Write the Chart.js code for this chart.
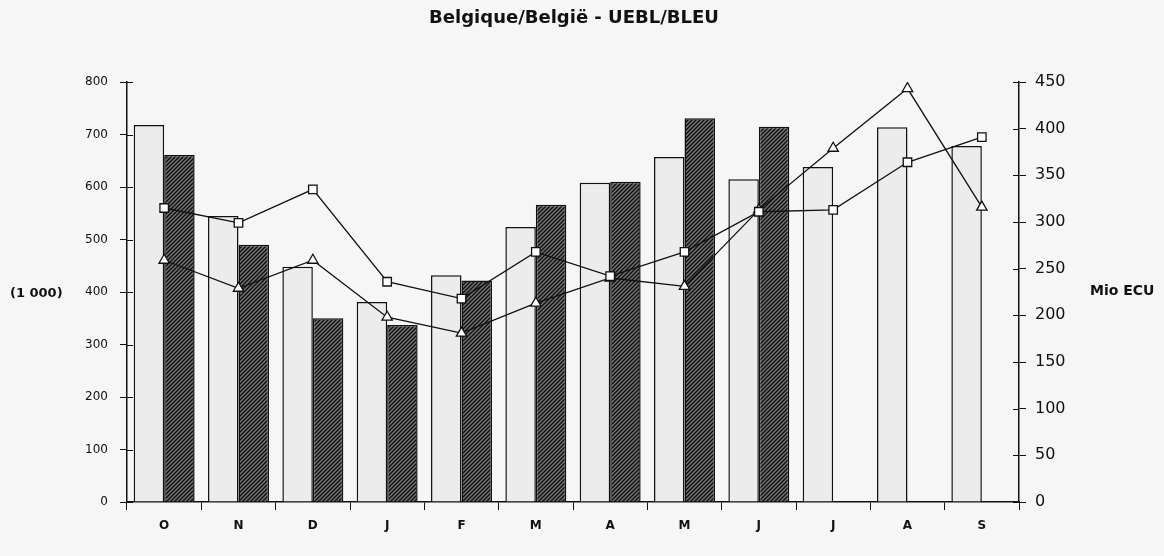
<!DOCTYPE html>
<html>
<head>
<meta charset="utf-8">
<title>Belgique/België - UEBL/BLEU</title>
<script src="https://cdn.jsdelivr.net/npm/chart.js@4/dist/chart.umd.min.js"></script>
<style>
  html, body { margin: 0; padding: 0; background: #f6f6f6; }
  #wrap { width: 1164px; height: 556px; position: relative; }
</style>
</head>
<body>
<div id="wrap"><canvas id="myChart"></canvas></div>
<script>
// Meses (eixo x)
const labels = ['O', 'N', 'D', 'J', 'F', 'M', 'A', 'M', 'J', 'J', 'A', 'S'];

// Barras - eixo esquerdo (1 000)
const barrasClaras = [718, 545, 448, 381, 432, 524, 608, 657, 615, 638, 714, 678];
const barrasEscuras = [661, 490, 350, 337, 422, 566, 610, 731, 715, null, null, null];

// Linhas - eixo direito (Mio ECU)
const linhaQuadrados = [315, 299, 335, 236, 218, 268, 242, 268, 311, 313, 364, 391];
const linhaTriangulos = [259, 229, 259, 198, 181, 213, 240, 231, 313, 379, 443, 316];

// Ticks dos eixos
const ticksEsquerda = [0, 100, 200, 300, 400, 500, 600, 700, 800];
const ticksDireita = [0, 50, 100, 150, 200, 250, 300, 350, 400, 450];

// Padrão hachurado para as barras escuras
function hachura() {
    const c = document.createElement('canvas');
    c.width = 4; c.height = 4;
    const g = c.getContext('2d');
    g.fillStyle = '#777';
    g.fillRect(0, 0, 4, 4);
    g.strokeStyle = '#111';
    g.lineWidth = 1.5;
    g.beginPath();
    g.moveTo(-1, 5); g.lineTo(5, -1);
    g.moveTo(-1, 1); g.lineTo(1, -1);
    g.moveTo(3, 5); g.lineTo(5, 3);
    g.stroke();
    return g.createPattern(c, 'repeat');
}

const fonte = '"DejaVu Sans", Verdana, sans-serif';

// Título, rótulos laterais e a parte interna dos traços dos eixos
const textos = {
    id: 'textos',
    afterDraw(chart) {
        const ctx = chart.ctx;
        ctx.save();
        // traços que cruzam os eixos verticais
        ctx.strokeStyle = '#111';
        ctx.lineWidth = 1.2;
        const yl = chart.scales.y, yr = chart.scales.y2;
        ctx.beginPath();
        yl.ticks.forEach(t => {
            const p = Math.round(yl.getPixelForValue(t.value)) + 0.5;
            ctx.moveTo(yl.right, p); ctx.lineTo(yl.right + 6, p);
        });
        yr.ticks.forEach(t => {
            const p = Math.round(yr.getPixelForValue(t.value)) + 0.5;
            ctx.moveTo(yr.left - 6, p); ctx.lineTo(yr.left, p);
        });
        ctx.stroke();

        ctx.fillStyle = '#111';
        ctx.textBaseline = 'middle';
        ctx.textAlign = 'center';
        ctx.font = 'bold 18px ' + fonte;
        ctx.fillText('Belgique/België - UEBL/BLEU', 574, 18);
        ctx.textAlign = 'left';
        ctx.font = 'bold 13px ' + fonte;
        ctx.fillText('(1 000)', 10, 294);
        ctx.font = 'bold 14px ' + fonte;
        ctx.fillText('Mio ECU', 1090, 291);
        ctx.restore();
    }
};

const data = {
    labels: labels,
    datasets: [
        {
            type: 'line',
            data: linhaQuadrados,
            yAxisID: 'y2',
            borderColor: '#111',
            borderWidth: 1.3,
            pointStyle: 'rect',
            pointRadius: 6,
            pointBackgroundColor: '#fff',
            pointBorderColor: '#111',
            pointBorderWidth: 1.3,
            tension: 0,
            order: 0
        },
        {
            type: 'line',
            data: linhaTriangulos,
            yAxisID: 'y2',
            borderColor: '#111',
            borderWidth: 1.3,
            pointStyle: 'triangle',
            pointRadius: 6,
            pointBackgroundColor: '#fff',
            pointBorderColor: '#111',
            pointBorderWidth: 1.3,
            tension: 0,
            order: 0
        },
        {
            type: 'bar',
            data: barrasClaras,
            yAxisID: 'y',
            backgroundColor: '#ececec',
            borderColor: '#111',
            borderWidth: 1.5,
            categoryPercentage: 0.82,
            barPercentage: 1.0,
            order: 1
        },
        {
            type: 'bar',
            data: barrasEscuras,
            yAxisID: 'y',
            backgroundColor: hachura(),
            borderColor: '#111',
            borderWidth: 1.5,
            categoryPercentage: 0.82,
            barPercentage: 1.0,
            order: 1
        }
    ]
};

const config = {
    type: 'bar',
    data: data,
    options: {
        responsive: false,
        animation: false,
        layout: { padding: { top: 82, left: 0, right: 0, bottom: 0 } },
        plugins: { legend: { display: false }, tooltip: { enabled: false } },
        scales: {
            x: {
                grid: { drawOnChartArea: false, color: '#111', tickLength: 8, offset: true },
                border: { color: '#111', width: 1.5 },
                ticks: { color: '#111', font: { family: fonte, size: 12, weight: 'bold' }, padding: 9 },
                afterFit(s) { s.height = 54; }
            },
            y: {
                position: 'left',
                min: 0, max: 800,
                afterBuildTicks(s) { s.ticks = ticksEsquerda.map(v => ({ value: v })); },
                grid: { drawOnChartArea: false, color: '#111', tickLength: 7 },
                border: { color: '#111', width: 1.5 },
                ticks: { color: '#111', font: { family: fonte, size: 12 }, padding: 12 },
                afterFit(s) { s.width = 127; }
            },
            y2: {
                position: 'right',
                min: 0, max: 450,
                afterBuildTicks(s) { s.ticks = ticksDireita.map(v => ({ value: v })); },
                grid: { drawOnChartArea: false, color: '#111', tickLength: 7 },
                border: { color: '#111', width: 1.5 },
                ticks: { color: '#111', font: { family: fonte, size: 16 }, padding: 9 },
                afterFit(s) { s.width = 145; }
            }
        }
    },
    plugins: [textos]
};

const canvas = document.getElementById('myChart');
canvas.width = 1164;
canvas.height = 556;
new Chart(canvas, config);
</script>
</body>
</html>
